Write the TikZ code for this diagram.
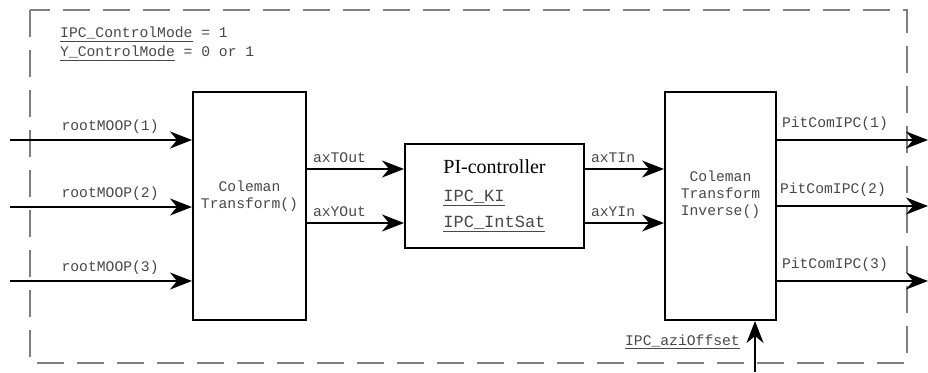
\documentclass[tikz,border=0pt]{standalone}
\usepackage{fontspec}
\setmainfont{Liberation Serif}
\newfontfamily\monofont{Liberation Mono}
\usetikzlibrary{arrows.meta,positioning}

\definecolor{labelgray}{HTML}{484848}
\definecolor{framegray}{HTML}{808080}

% underlined variable name
\newcommand{\varname}[1]{\setbox0\hbox{#1}\rlap{\rule[-4.3pt]{\wd0}{1.1pt}}\box0\relax}
\newcommand{\pivar}[1]{\textcolor{labelgray}{\monofont\fontsize{17}{23}\selectfont\varname{#1}}}

\tikzset{
  blockbox/.style={draw, line width=2pt, inner sep=0pt},
  sig/.style={line width=2pt, -{Stealth[length=22pt,width=17pt,inset=7pt]}},
  lbl/.style={text=labelgray, font=\monofont\fontsize{14.7}{17}\selectfont, inner sep=2pt},
  frame/.style={draw=framegray, line width=1.3pt, dash pattern=on 27pt off 13pt}
}

\begin{document}
\begin{tikzpicture}[x=1pt, y=-1pt]
            \useasboundingbox (0,0) rectangle (928,372);

            \draw[frame] (30,10) rectangle (907,363);

            \node[lbl, anchor=north west, align=left] (modes) at (58,25)
                {\varname{IPC\_ControlMode} = 1\\[2pt]\varname{Y\_ControlMode} = 0 or 1};

            \node[blockbox, lbl, minimum width=113pt, minimum height=228pt, align=center] (ct) at (249.5,206)
                {Coleman\\Transform()\\[6pt]};
            \node[blockbox, minimum width=179pt, minimum height=104pt, align=left, font=\fontsize{20}{24}\selectfont] (pi) at (494.5,196)
                {PI-controller\\[4pt]\pivar{IPC\_KI}\\[2pt]\pivar{IPC\_IntSat}};
            \node[blockbox, lbl, minimum width=111pt, minimum height=228pt, align=center] (cti) at (720.5,206)
                {Coleman\\Transform\\Inverse()\\[8pt]};

            % inputs
            \coordinate (in1) at (10,140);
            \coordinate (in2) at (10,207);
            \coordinate (in3) at (10,281);
            \draw[sig] (in1) -- (in1 -| ct.west) node[lbl, pos=0.55, above=3pt] {rootMOOP(1)};
            \draw[sig] (in2) -- (in2 -| ct.west) node[lbl, pos=0.55, above=3pt] {rootMOOP(2)};
            \draw[sig] (in3) -- (in3 -| ct.west) node[lbl, pos=0.55, above=3pt] {rootMOOP(3)};

            % transform to controller and back
            \coordinate (piT) at ([yshift=27pt]pi.west);
            \coordinate (piY) at ([yshift=-27pt]pi.west);
            \draw[sig] (ct.east |- piT) node[lbl, anchor=south west, xshift=3pt, yshift=3pt] {axTOut} -- (piT);
            \draw[sig] (ct.east |- piY) node[lbl, anchor=south west, xshift=3pt, yshift=3pt] {axYOut} -- (piY);
            \draw[sig] (pi.east |- piT) node[lbl, anchor=south west, xshift=3pt, yshift=3pt] {axTIn} -- (cti.west |- piT);
            \draw[sig] (pi.east |- piY) node[lbl, anchor=south west, xshift=3pt, yshift=3pt] {axYIn} -- (cti.west |- piY);

            % outputs
            \coordinate (out1) at (928,140);
            \coordinate (out2) at (928,206);
            \coordinate (out3) at (928,281);
            \draw[sig] (cti.east |- out1) node[lbl, anchor=south west, xshift=2pt, yshift=6pt] {PitComIPC(1)} -- (out1);
            \draw[sig] (cti.east |- out2) node[lbl, anchor=south west, xshift=0pt, yshift=6pt] {PitComIPC(2)} -- (out2);
            \draw[sig] (cti.east |- out3) node[lbl, anchor=south west, xshift=2pt, yshift=6pt] {PitComIPC(3)} -- (out3);

            % azimuth offset
            \coordinate (azi) at (755,372);
            \draw[sig] (azi) -- (azi |- cti.south);
            \node[lbl, anchor=east] (azilbl) at (742,342) {\varname{IPC\_aziOffset}};
        \end{tikzpicture}
\end{document}
